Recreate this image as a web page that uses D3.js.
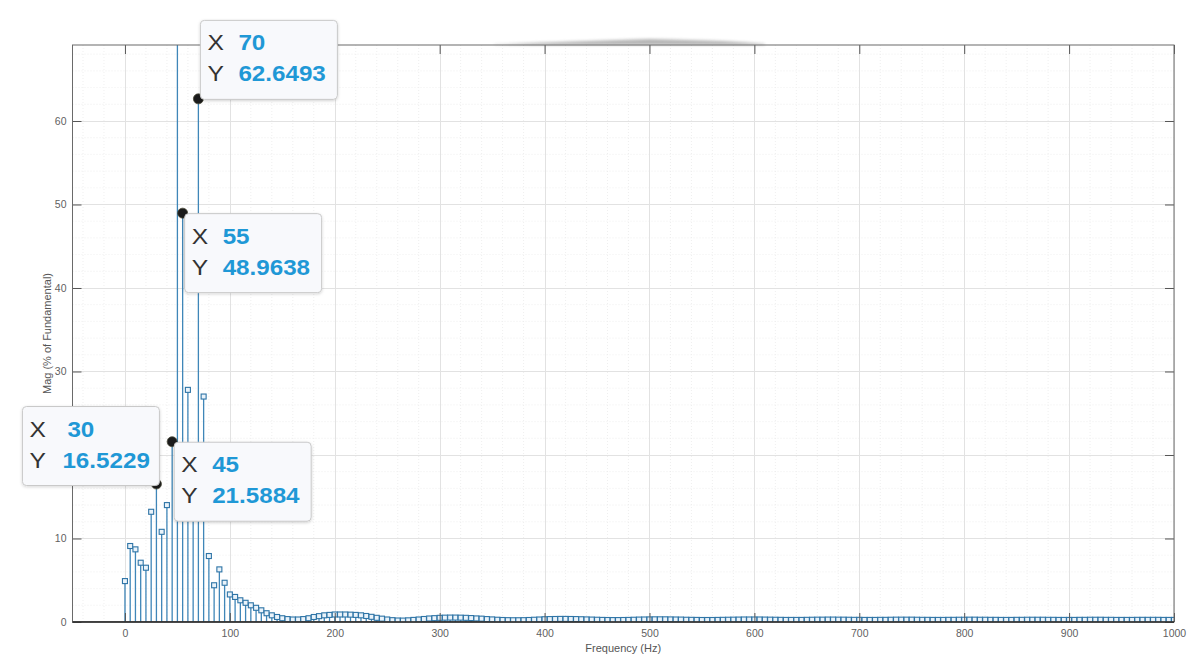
<!DOCTYPE html>
<html>
<head>
<meta charset="utf-8">
<script src="https://cdn.jsdelivr.net/npm/d3@7"></script>
<style>
  html, body { margin: 0; padding: 0; background: #ffffff; }
  svg { display: block; font-family: "Liberation Sans", Arial, sans-serif; }
</style>
</head>
<body>
<svg id="chart" width="1200" height="668"></svg>
<script>
// ---------------- data ----------------
// FFT magnitude (% of fundamental), one value every 5 Hz from 0 Hz to 1000 Hz
const freqStep = 5;
const magnitudes = [
  4.9, 9.1, 8.7, 7.1, 6.5, 13.2, 16.5229, 10.8, 14.0, 21.5884, 100, 48.9638, 27.8, 20.5, 62.6493, 27.0, 7.9, 4.4, 6.3, 4.7,
  3.3, 3.0, 2.6, 2.3, 2.0, 1.7, 1.4, 1.05, 0.8, 0.6, 0.45, 0.35, 0.3, 0.3, 0.35, 0.45, 0.6, 0.7, 0.8, 0.85,
  0.9, 0.9, 0.9, 0.88, 0.85, 0.8, 0.72, 0.62, 0.5, 0.4, 0.3, 0.22, 0.18, 0.17, 0.2, 0.25, 0.3, 0.36, 0.42, 0.46,
  0.5, 0.52, 0.53, 0.53, 0.52, 0.5, 0.47, 0.43, 0.4, 0.35, 0.31, 0.27, 0.24, 0.22, 0.21, 0.21, 0.22, 0.24, 0.27, 0.3,
  0.33, 0.35, 0.36, 0.37, 0.37, 0.36, 0.35, 0.33, 0.31, 0.29, 0.27, 0.25, 0.24, 0.23, 0.23, 0.24, 0.25, 0.27, 0.29, 0.3,
  0.31, 0.32, 0.32, 0.32, 0.31, 0.3, 0.29, 0.27, 0.26, 0.25, 0.24, 0.24, 0.24, 0.25, 0.26, 0.27, 0.28, 0.29, 0.3, 0.3,
  0.3, 0.3, 0.29, 0.28, 0.27, 0.26, 0.25, 0.25, 0.25, 0.25, 0.26, 0.27, 0.28, 0.28, 0.29, 0.29, 0.28, 0.28, 0.27, 0.26,
  0.26, 0.25, 0.25, 0.25, 0.26, 0.26, 0.27, 0.28, 0.28, 0.28, 0.28, 0.27, 0.26, 0.26, 0.25, 0.25, 0.25, 0.26, 0.26, 0.27,
  0.27, 0.28, 0.28, 0.27, 0.27, 0.26, 0.26, 0.25, 0.25, 0.25, 0.26, 0.26, 0.27, 0.27, 0.27, 0.27, 0.26, 0.26, 0.25, 0.25,
  0.25, 0.25, 0.26, 0.26, 0.27, 0.27, 0.27, 0.26, 0.26, 0.25, 0.25, 0.25, 0.25, 0.26, 0.26, 0.26, 0.26, 0.26, 0.25, 0.25,
  0.25
];
const xTicks = [0, 100, 200, 300, 400, 500, 600, 700, 800, 900, 1000];
const yTicks = [0, 10, 20, 30, 40, 50, 60];
const xDomain = [-50, 1000];
const yDomain = [0, 69.1];
const xLabel = "Frequency (Hz)";
const yLabel = "Mag (% of Fundamental)";
// data tips: frequency, magnitude, placement of the box
const tipX = [70, 55, 30, 45];
const tipY = [62.6493, 48.9638, 16.5229, 21.5884];
const tipPlace = ["ne", "se", "nw", "se"];

// ---------------- build ----------------
const points = magnitudes.map((m, i) => ({ f: i * freqStep, m }));

const svg = d3.select("#chart");
const x = d3.scaleLinear().domain(xDomain).range([72.5, 1174]);
const y = d3.scaleLinear().domain(yDomain).range([622, 45]);
const [x0, x1] = x.range();
const [yb, yt] = y.range();

const defs = svg.append("defs");
defs.append("clipPath").attr("id", "plotclip")
  .append("rect").attr("x", x0).attr("y", yt).attr("width", x1 - x0).attr("height", yb - yt);
const sh = defs.append("filter").attr("id", "shadow").attr("x", "-20%").attr("y", "-20%").attr("width", "140%").attr("height", "140%");
sh.append("feDropShadow").attr("dx", 0).attr("dy", 1).attr("stdDeviation", 1.6)
  .attr("flood-color", "#000").attr("flood-opacity", 0.18);
const bl = defs.append("filter").attr("id", "blur").attr("x", "-10%").attr("y", "-200%").attr("width", "120%").attr("height", "500%");
bl.append("feGaussianBlur").attr("stdDeviation", 1.5);

// plot background
svg.append("rect").attr("x", x0).attr("y", yt).attr("width", x1 - x0).attr("height", yb - yt).attr("fill", "#ffffff");

// minor grid
const gMinor = svg.append("g").attr("stroke", "#ebebeb").attr("stroke-width", 0.8).attr("stroke-dasharray", "1,2");
gMinor.selectAll("line.mx").data(d3.range(-40, 1000, 20).filter(v => v % 100 !== 0)).join("line")
  .attr("x1", d => x(d)).attr("x2", d => x(d)).attr("y1", yt).attr("y2", yb);
gMinor.selectAll("line.my").data(d3.range(2, 69, 2).filter(v => v % 10 !== 0)).join("line")
  .attr("y1", d => y(d)).attr("y2", d => y(d)).attr("x1", x0).attr("x2", x1);

// major grid
const gMajor = svg.append("g").attr("stroke", "#e2e2e2").attr("stroke-width", 1);
gMajor.selectAll("line.gx").data(xTicks).join("line")
  .attr("x1", d => Math.round(x(d)) + 0.5).attr("x2", d => Math.round(x(d)) + 0.5).attr("y1", yt).attr("y2", yb);
gMajor.selectAll("line.gy").data(yTicks).join("line")
  .attr("y1", d => Math.round(y(d)) + 0.5).attr("y2", d => Math.round(y(d)) + 0.5).attr("x1", x0).attr("x2", x1);

// blurred smudge above the top edge
svg.append("path")
  .attr("d", `M${x(352)},${yt - 0.5} Q${x(420)},${yt - 3.5} ${x(500)},${yt - 6} Q${x(580)},${yt - 4.5} ${x(610)},${yt - 1} L${x(610)},${yt} L${x(352)},${yt} Z`)
  .attr("fill", "#7a7a7a").attr("opacity", 0.55).attr("filter", "url(#blur)");

// stems
const plot = svg.append("g").attr("clip-path", "url(#plotclip)");
plot.selectAll("line.stem").data(points).join("line")
  .attr("x1", d => x(d.f)).attr("x2", d => x(d.f))
  .attr("y1", y(0)).attr("y2", d => y(d.m))
  .attr("stroke", "#3f86b8").attr("stroke-width", 1.3);

// baseline
plot.append("line").attr("x1", x0).attr("x2", x1).attr("y1", y(0)).attr("y2", y(0))
  .attr("stroke", "#2a2a2a").attr("stroke-width", 1.2);

// markers (squares)
const ms = 5;
plot.selectAll("rect.mk").data(points.filter(d => d.m < yDomain[1])).join("rect")
  .attr("x", d => x(d.f) - ms / 2).attr("y", d => y(d.m) - ms / 2)
  .attr("width", ms).attr("height", ms)
  .attr("fill", "#eaf3fa").attr("stroke", "#2e74a6").attr("stroke-width", 1.1);

// axes
const tickFont = g => g.selectAll("text").attr("font-size", 10.5).attr("fill", "#5f5f5f")
  .attr("font-family", "'Liberation Sans', Arial, sans-serif");
const fmt = d3.format("d");
const axB = svg.append("g").attr("transform", `translate(0,${yb})`)
  .call(d3.axisBottom(x).tickValues(xTicks).tickFormat(fmt).tickSize(-9).tickSizeOuter(0).tickPadding(8));
const axT = svg.append("g").attr("transform", `translate(0,${yt})`)
  .call(d3.axisTop(x).tickValues(xTicks).tickSize(-9).tickSizeOuter(0).tickFormat(""));
const axL = svg.append("g").attr("transform", `translate(${x0},0)`)
  .call(d3.axisLeft(y).tickValues(yTicks).tickFormat(fmt).tickSize(-9).tickSizeOuter(0).tickPadding(6));
const axR = svg.append("g").attr("transform", `translate(${x1},0)`)
  .call(d3.axisRight(y).tickValues(yTicks).tickSize(-9).tickSizeOuter(0).tickFormat(""));
[axB, axT, axL, axR].forEach(a => {
  a.select(".domain").remove();
  a.selectAll(".tick line").attr("stroke", "#555").attr("stroke-width", 1);
  a.call(tickFont);
});
// frame
svg.append("rect").attr("x", x0).attr("y", yt).attr("width", x1 - x0).attr("height", yb - yt)
  .attr("fill", "none").attr("stroke", "#6a6a6a").attr("stroke-width", 1);
svg.append("line").attr("x1", x0).attr("x2", x1).attr("y1", yb).attr("y2", yb)
  .attr("stroke", "#2a2a2a").attr("stroke-width", 1.3);

// axis labels
svg.append("text").attr("x", (x0 + x1) / 2).attr("y", 652)
  .attr("text-anchor", "middle").attr("font-size", 11).attr("fill", "#555").text(xLabel);
svg.append("text").attr("transform", `translate(51,${(yb + yt) / 2}) rotate(-90)`)
  .attr("text-anchor", "middle").attr("font-size", 11).attr("fill", "#555").text(yLabel);

// data tips
const tips = tipX.map((fx, i) => ({ fx, fy: tipY[i], place: tipPlace[i] }));
const bw = 137, bh = 79;
tips.forEach(t => {
  const px = x(t.fx), py = y(t.fy);
  let left, top;
  if (t.place === "ne") { left = px + 2; top = py - bh + 0.5; }
  else if (t.place === "se") { left = px + 2; top = py + 0.5; }
  else { left = px + 3 - bw; top = py + 1.5 - bh; }
  t.px = px; t.py = py; t.left = left; t.top = top;
});
// dots first
svg.selectAll("circle.tipdot").data(tips).join("circle")
  .attr("cx", d => d.px).attr("cy", d => d.py).attr("r", 5)
  .attr("fill", "#1b1b1b").attr("stroke", "#4a4a3a").attr("stroke-width", 0.8);
// boxes
const box = svg.selectAll("g.tip").data(tips).join("g").attr("class", "tip")
  .attr("transform", d => `translate(${d.left},${d.top})`);
box.append("rect").attr("width", bw).attr("height", bh).attr("rx", 4)
  .attr("fill", "#f8f9fc").attr("stroke", "#c9c9c9").attr("stroke-width", 1).attr("filter", "url(#shadow)");
const row = (g, letter, val, by, vx) => {
  g.append("text").attr("transform", `translate(7,${by}) scale(1.12,1)`)
    .attr("font-size", 22).attr("fill", "#333").text(letter);
  g.append("text").attr("transform", `translate(${vx},${by}) scale(1.1,1)`)
    .attr("font-size", 22).attr("font-weight", "bold").attr("fill", "#1f98d6").text(val);
};
box.each(function(d) {
  const g = d3.select(this);
  // short X values are centred a little further right, as in the reference tips
  const xv = String(d.fx), yv = String(d.fy);
  row(g, "X", xv, 30, d.place === "nw" ? 45 : 38);
  row(g, "Y", yv, 61, d.place === "nw" ? 40 : 38);
});
</script>
</body>
</html>
